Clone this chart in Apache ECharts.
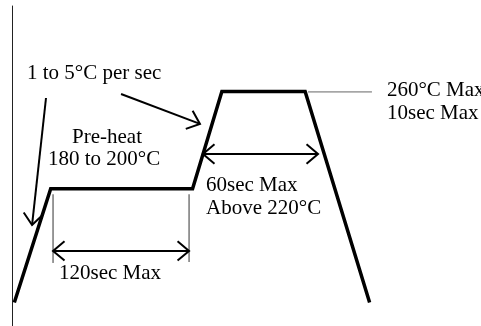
<!DOCTYPE html>
<html>
<head>
<meta charset="utf-8">
<script src="https://cdn.jsdelivr.net/npm/echarts@6/dist/echarts.min.js"></script>
<style>
html,body{margin:0;padding:0;background:#fff;}
#chart{width:481px;height:326px;}
</style>
</head>
<body>
<div id="chart"></div>
<script>
// Reflow profile (time in seconds, temperature in °C)
const profileTime = [2, 33, 154, 179, 250, 305];
const profileTemp = [107, 189.5, 189.5, 260, 260, 107];

// Arrows: [fromTime, fromTemp, toTime, toTemp, heads(1=end,2=both)]
const arrowSegments = [
  [93, 258.2, 160.3, 236.5, 1],
  [29, 255.3, 17.1, 163.2, 1],
  [35, 144.4, 151, 144.4, 2],
  [162.9, 214.7, 261, 214.7, 2]
];

// Thin vertical guide lines: [fromTime, fromTemp, toTime, toTemp]
const guideSegments = [
  [35, 185.5, 35, 135.7],
  [151, 185.5, 151, 136.4]
];
// Peak marker line
const peakGuide = [[252.5, 259.7, 307, 259.7]];

// Annotation texts and their anchor (left edge, vertical middle)
const labelTexts = ['1 to 5°C per sec', 'Pre-heat', '180 to 200°C', '260°C Max', '10sec Max', '60sec Max', 'Above 220°C', '120sec Max'];
const labelTime  = [12.8, 51.2, 30.7, 319.8, 319.8, 165.5, 165.5, 40.1];
const labelTemp  = [273.4, 227.0, 210.4, 261.1, 244.4, 192.2, 175.5, 128.4];

const chart = echarts.init(document.getElementById('chart'), null, {renderer: 'canvas'});

const FONT = '21px "Liberation Serif", "Times New Roman", serif';

function arrowHead(tip, from, len, ang) {
  const dx = from[0] - tip[0], dy = from[1] - tip[1];
  const a = Math.atan2(dy, dx);
  return [
    [tip[0] + len * Math.cos(a + ang), tip[1] + len * Math.sin(a + ang)],
    [tip[0], tip[1]],
    [tip[0] + len * Math.cos(a - ang), tip[1] + len * Math.sin(a - ang)]
  ];
}

function segmentSeries(data, color, width) {
  return {
    type: 'custom',
    clip: false,
    silent: true,
    data: data,
    renderItem: function (params, api) {
      const p1 = api.coord([api.value(0), api.value(1)]);
      const p2 = api.coord([api.value(2), api.value(3)]);
      return {
        type: 'line',
        shape: {x1: p1[0], y1: p1[1], x2: p2[0], y2: p2[1]},
        style: {stroke: color, lineWidth: width}
      };
    }
  };
}

const option = {
  animation: false,
  backgroundColor: '#fff',
  grid: {left: 12, right: 0, top: 6, bottom: 0, containLabel: false},
  xAxis: {
    type: 'value', min: 0, max: 400, show: false
  },
  yAxis: {
    type: 'value', min: 90, max: 322,
    axisLine: {show: true, onZero: false, lineStyle: {color: '#222', width: 1}},
    axisTick: {show: false}, axisLabel: {show: false}, splitLine: {show: false}
  },
  series: [
    {
      type: 'line',
      data: profileTime.map((t, i) => [t, profileTemp[i]]),
      symbol: 'none',
      lineStyle: {color: '#000', width: 3.5, join: 'miter', cap: 'butt'},
      silent: true
    },
    segmentSeries(guideSegments, '#333', 1),
    segmentSeries(peakGuide, '#666', 1),
    {
      type: 'custom',
      clip: false,
      silent: true,
      data: arrowSegments,
      renderItem: function (params, api) {
        const p1 = api.coord([api.value(0), api.value(1)]);
        const p2 = api.coord([api.value(2), api.value(3)]);
        const heads = api.value(4);
        const st = {stroke: '#000', lineWidth: 2, fill: null};
        const children = [{
          type: 'line',
          shape: {x1: p1[0], y1: p1[1], x2: p2[0], y2: p2[1]},
          style: st
        }];
        const len = 15, ang = 40 * Math.PI / 180;
        children.push({type: 'polyline', shape: {points: arrowHead(p2, p1, len, ang)}, style: st});
        if (heads === 2) {
          children.push({type: 'polyline', shape: {points: arrowHead(p1, p2, len, ang)}, style: st});
        }
        return {type: 'group', children: children};
      }
    },
    {
      type: 'custom',
      clip: false,
      silent: true,
      data: labelTime.map((t, i) => [t, labelTemp[i]]),
      renderItem: function (params, api) {
        const p = api.coord([api.value(0), api.value(1)]);
        return {
          type: 'text',
          x: p[0], y: p[1],
          style: {
            text: labelTexts[params.dataIndex],
            font: FONT,
            fill: '#000',
            align: 'left',
            verticalAlign: 'middle'
          }
        };
      }
    }
  ]
};

chart.setOption(option);
</script>
</body>
</html>
